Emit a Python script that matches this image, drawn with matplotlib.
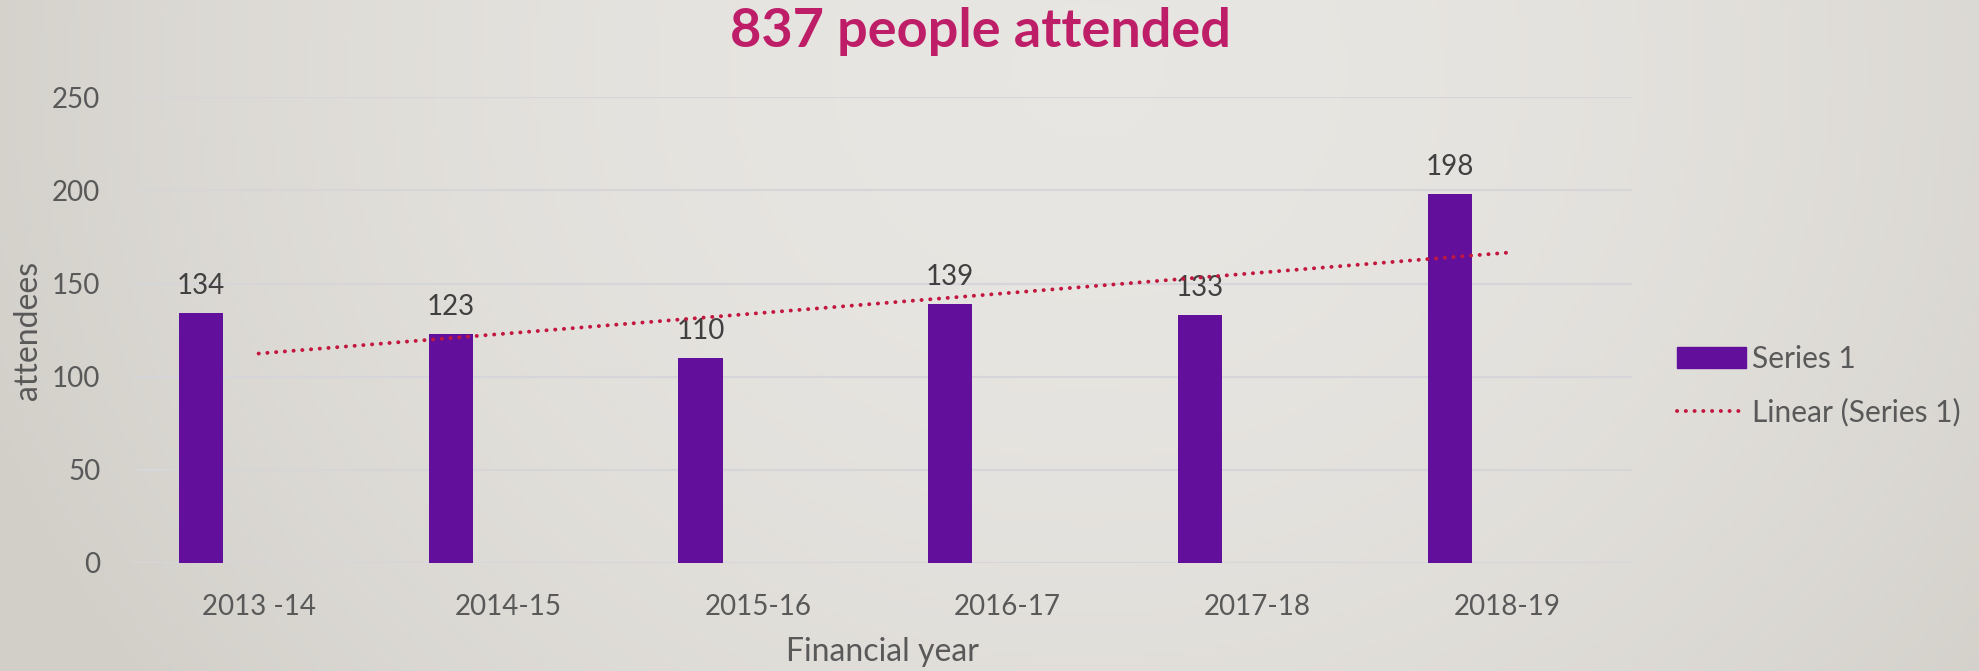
import numpy as np
import matplotlib
matplotlib.use('Agg')
import matplotlib.pyplot as plt
from matplotlib.patches import Patch
from matplotlib.lines import Line2D
from matplotlib.colors import LinearSegmentedColormap

plt.rcParams['font.family'] = ['Lato', 'DejaVu Sans']

years = ['2013 -14', '2014-15', '2015-16', '2016-17', '2017-18', '2018-19']
attendees = [134, 123, 110, 139, 133, 198]

bar_color = '#62109C'
trend_color = '#C2173F'
title_color = '#BE1E68'

fig = plt.figure(figsize=(19.79, 6.71), dpi=100)

# slide-like background gradient
bg = fig.add_axes([0, 0, 1, 1], zorder=-10)
xx = np.linspace(0, 1, 400)
yy = np.linspace(0, 1, 150)
X, Y = np.meshgrid(xx, yy)
grad = 1 - np.clip(((X - 0.55) / 0.6) ** 2 + ((Y - 0.1) / 1.6) ** 2, 0, 1)
cmap = LinearSegmentedColormap.from_list('bg', ['#d2cfc9', '#e8e6e2'])
bg.imshow(grad, cmap=cmap, aspect='auto', extent=[0, 1, 0, 1], origin='upper')
bg.axis('off')

ax = fig.add_axes([0.0676, 0.161, 0.757, 0.694])
ax.set_facecolor('none')

x = np.arange(len(years))
ax.bar(x - 0.23, attendees, width=0.177, color=bar_color, zorder=2)

for xi, v in zip(x, attendees):
    ax.annotate(str(v), (xi - 0.23, v), xytext=(0, 10), textcoords='offset points',
                ha='center', va='bottom', fontsize=20, color='#404040')

# linear trendline
slope, intercept = np.polyfit(x, attendees, 1)
ax.plot(x, slope * x + intercept, color=trend_color, lw=2.8,
        linestyle=(0, (0.05, 2.2)), dash_capstyle='round', zorder=3)

ax.set_xlim(-0.5, 5.5)
ax.set_ylim(0, 250)
ax.set_yticks([0, 50, 100, 150, 200, 250])
ax.set_xticks(x)
ax.set_xticklabels(years)
ax.grid(axis='y', color='#d6d6da', lw=1.6, zorder=0)
for s in ax.spines.values():
    s.set_visible(False)
ax.tick_params(length=0, labelsize=20, colors='#595959')
ax.tick_params(axis='y', pad=24)
ax.tick_params(axis='x', pad=22)

fig.text(0.014, 0.507, 'attendees', rotation=90, ha='center', va='center',
         fontsize=23, color='#595959')
fig.text(0.446, 0.028, 'Financial year', ha='center', va='center',
         fontsize=23, color='#595959')
fig.text(0.4955, 0.953, '837 people attended', ha='center', va='center',
         fontsize=39, fontweight='bold', color=title_color)

handles = [Patch(color=bar_color),
           Line2D([0], [0], color=trend_color, lw=2.8, linestyle=(0, (0.05, 2.2)),
                  dash_capstyle='round')]
fig.legend(handles, ['Series 1', 'Linear (Series 1)'], loc='center left',
           bbox_to_anchor=(0.834, 0.425), frameon=False, fontsize=21.5,
           labelcolor='#595959', handlelength=2.3, handletextpad=0.2,
           labelspacing=0.85)

fig.savefig('out.png', dpi=100)
